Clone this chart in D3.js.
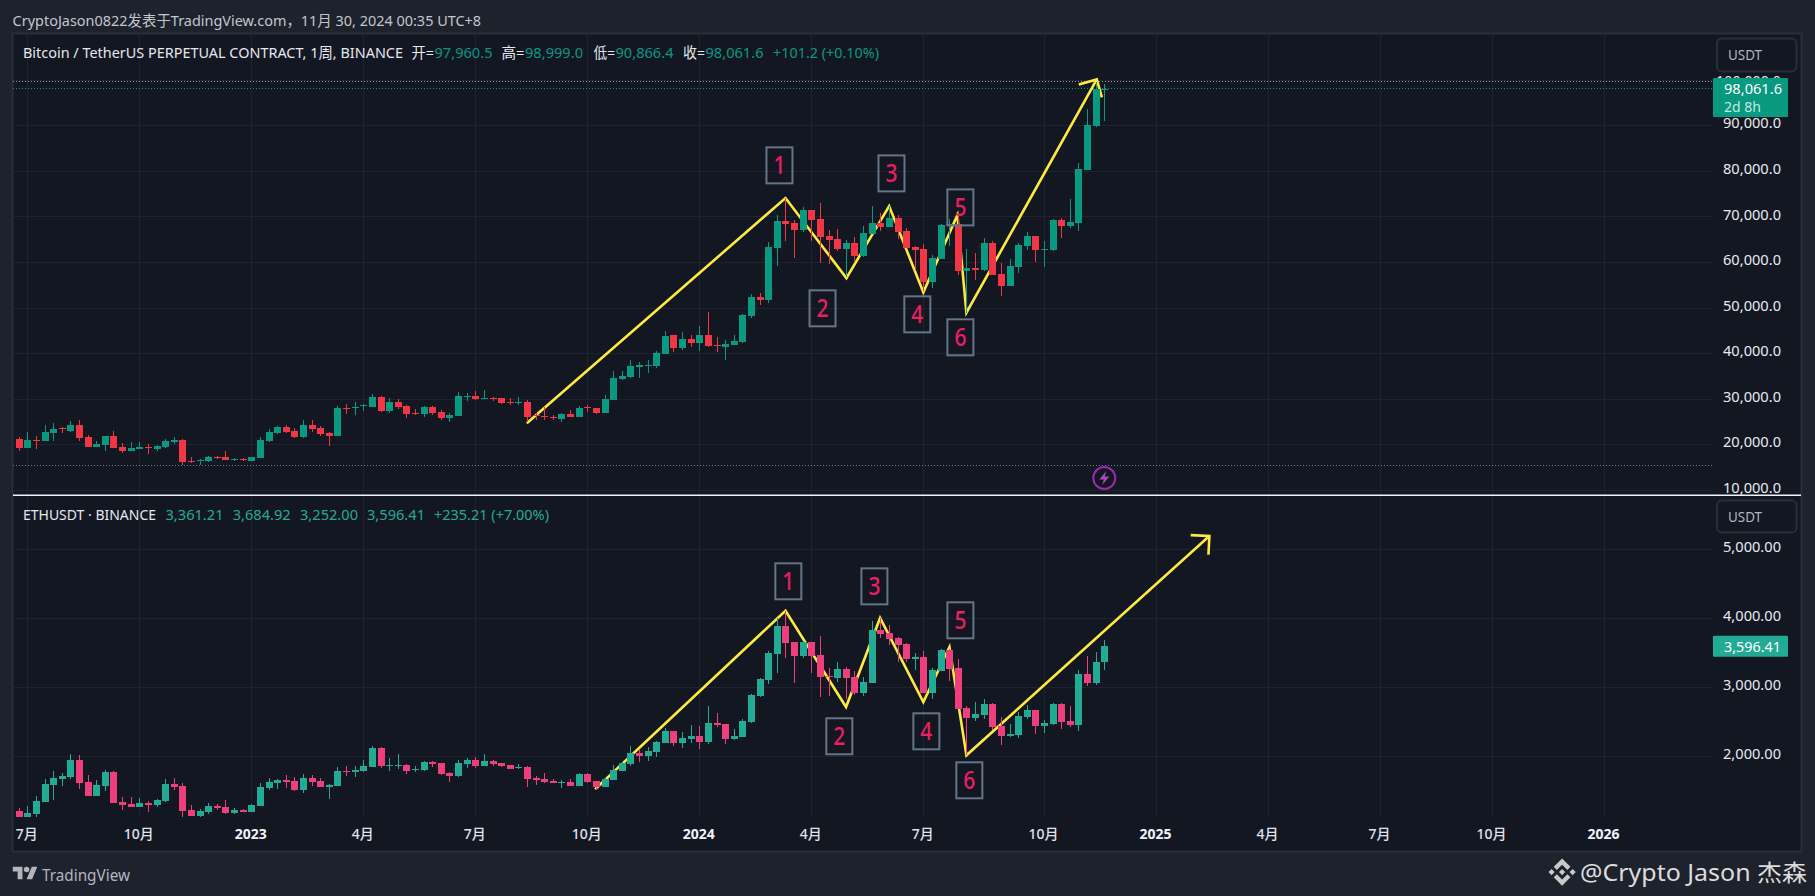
<!DOCTYPE html>
<html>
<head>
<meta charset="utf-8">
<title>BTC / ETH weekly</title>
<script src="https://cdn.jsdelivr.net/npm/d3@7"></script>
<style>
  html, body { margin: 0; background: #1e222d; overflow: hidden; }
  svg { display: block; }
  text { font-family: "Noto Sans", "Noto Sans CJK SC", sans-serif; }
</style>
</head>
<body>
<div id="chart"></div>
<script>
// weekly bars, first one is the week before the first 7月 tick
const btcOpen = [
  21180,19210,20970,20750,22500,23500,22940,24250,21620,19430,
  19870,21840,19430,18550,18990,19430,18990,19430,20530,20970,
  16360,16360,16360,17240,17240,16580,16800,16360,17020,20750,
  22500,23820,22940,21620,24250,23600,22500,21840,27980,27980,
  28420,28200,30400,27330,29300,28420,26890,26670,28200,27110,
  25790,26230,30400,30610,29960,30180,30180,29300,29080,29300,
  26450,26230,26080,25570,26670,26010,28200,27980,26890,29740,
  34340,34780,36970,37190,37190,39820,43990,41140,43120,42240,
  43990,41800,41360,41800,42460,48160,52330,51670,63070,68990,
  68550,67020,71400,69430,65700,65040,62850,64170,61320,66140,
  68550,67680,69650,66800,63290,62850,55620,60660,68110,68330,
  58030,58680,58250,64170,57370,54740,58900,63510,65700,62630,
  62630,69210,67900,68550,80170,89820,97960.5];
const btcHigh = [
  21620,22720,21840,24250,24690,23820,25130,25350,22060,20750,
  21840,22940,20310,20530,20530,20090,19870,21180,21620,21180,
  17240,16800,17460,17460,18550,17020,17020,17240,21620,23380,
  24040,24250,23600,25350,25350,24040,22720,28420,28860,29300,
  28860,31050,30610,30180,29960,28640,27760,28420,28420,27540,
  26890,31490,31270,31710,31930,30400,30180,30180,30400,29740,
  26890,28200,26450,26890,27540,28420,28640,27980,30830,36100,
  36100,38510,38070,38510,40480,44870,43990,44650,43990,45970,
  49040,43550,42900,43990,48600,52980,53200,64390,70310,74040,
  69210,72060,71400,72940,67020,67240,64830,65480,67900,72280,
  70750,72280,70310,67460,63510,63950,61540,68330,69430,70310,
  62850,61980,65260,64610,59780,60660,64170,66580,65700,64610,
  69430,69650,73810,81710,93550,99600,98999];
const btcLow = [
  18550,19210,18990,20750,20750,22500,22720,20750,19430,19430,
  18550,19210,18110,18550,18990,17900,18550,19210,20090,15590,
  15920,15440,16140,16800,16580,16360,16360,16360,17020,20530,
  22280,22500,21400,21400,22720,21840,19650,21840,26670,26450,
  27330,28200,27110,26890,27760,25790,26450,26010,26450,25350,
  24910,26230,29520,29740,29960,29520,28860,28640,28640,24910,
  25350,25350,25350,24910,26010,26010,27110,26670,26890,29740,
  34120,34560,34560,35660,36750,39820,40260,40700,41360,40480,
  41360,40260,38510,41800,42240,47720,50570,51010,59130,64610,
  60880,66580,64610,59780,59560,62410,56710,60220,61100,66140,
  66800,67680,65040,63070,58250,53640,54300,60660,63510,57150,
  48820,56050,58030,57150,52540,54740,57590,62630,60000,58900,
  62410,65260,67460,66800,80170,89600,90866.4];
const btcClose = [
  19210,20970,20750,22720,23380,23300,24250,21400,19430,20090,
  21840,19210,18550,19210,19430,19210,19650,20750,20970,16140,
  16140,16580,17240,17020,16580,16800,16580,17240,20970,22720,
  23820,22720,21620,24250,23380,22280,21840,27980,27760,28200,
  28640,30400,27330,29300,28200,26670,26670,28200,26890,25790,
  26450,30610,30610,29960,30180,29960,29080,29080,29300,26010,
  26230,26010,25860,26670,26010,27980,27980,26890,29960,34560,
  35000,37190,37410,37410,40040,43770,41140,43120,42240,43990,
  41580,41580,42020,42680,48380,52330,51670,63290,68990,68330,
  67020,71400,69210,65480,64830,62850,64170,61320,66360,68550,
  67680,69650,66580,63070,62630,55620,60880,68110,68330,58030,
  58680,58250,64170,57150,54740,59120,63730,65700,62630,62850,
  69210,67900,68770,80400,90040,97960.5,98061.6];

const ethOpen = [
  1207,1120,1164,1338,1584,1671,1700,1946,1628,1425,
  1570,1773,1338,1309,1265,1323,1294,1352,1599,1570,
  1222,1135,1193,1280,1265,1178,1222,1193,1280,1541,
  1613,1657,1642,1512,1686,1642,1555,1570,1787,1773,
  1787,1845,2120,1859,1859,1874,1801,1801,1917,1903,
  1758,1715,1888,1946,1859,1932,1903,1874,1830,1845,
  1686,1671,1642,1613,1628,1570,1744,1642,1555,1657,
  1787,1889,2048,2005,2063,2193,2367,2193,2251,2294,
  2208,2483,2468,2251,2280,2497,2874,3106,3483,3888,
  3656,3454,3656,3468,3164,3135,3265,3149,2917,3062,
  3830,3787,3714,3627,3410,3439,2917,3236,3541,3280,
  2700,2555,2599,2758,2439,2294,2309,2570,2671,2439,
  2468,2758,2512,2454,3193,3062,3361.21];
const ethHigh = [
  1251,1280,1425,1671,1787,1758,2033,2019,1729,1657,
  1801,1787,1410,1410,1396,1352,1381,1671,1686,1613,
  1294,1236,1323,1309,1367,1251,1236,1309,1613,1686,
  1671,1729,1700,1744,1729,1686,1599,1845,1859,1859,
  1946,2149,2135,1975,2033,1888,1859,1932,1932,1903,
  1773,1946,1975,1990,2033,1946,1903,1874,1888,1860,
  1715,1758,1671,1657,1671,1758,1758,1642,1686,1874,
  1918,2150,2092,2135,2222,2410,2367,2352,2454,2439,
  2729,2628,2468,2396,2541,2903,3135,3526,4004,4106,
  3656,3671,3656,3743,3280,3367,3294,3236,3149,3961,
  4004,3903,3729,3642,3497,3526,3280,3555,3555,3410,
  2729,2787,2830,2772,2570,2468,2642,2744,2671,2526,
  2772,2772,2729,3251,3454,3512,3684.92];
const ethLow = [
  1120,1120,1120,1338,1367,1570,1671,1526,1425,1425,
  1497,1323,1222,1265,1265,1193,1265,1338,1512,1120,
  1135,1120,1164,1222,1164,1164,1193,1193,1280,1512,
  1526,1541,1497,1468,1570,1555,1381,1570,1715,1700,
  1773,1845,1830,1787,1816,1744,1773,1787,1845,1729,
  1628,1700,1830,1830,1859,1859,1845,1816,1816,1555,
  1584,1613,1613,1541,1570,1570,1613,1512,1555,1657,
  1787,1860,1918,1932,1990,2193,2150,2121,2193,2106,
  2179,2425,2179,2236,2280,2483,2859,3048,3207,3425,
  3062,3425,3207,2859,2874,3077,2830,2888,2874,3062,
  3714,3613,3367,3367,3251,2917,2830,3236,3091,2686,
  2019,2512,2541,2381,2164,2280,2265,2541,2323,2338,
  2454,2396,2425,2367,3019,3033,3252.00];
const ethClose = [
  1120,1178,1352,1599,1686,1715,1946,1613,1425,1584,
  1773,1323,1294,1265,1323,1294,1367,1599,1555,1207,
  1135,1207,1280,1251,1178,1222,1193,1294,1555,1628,
  1657,1628,1512,1686,1628,1555,1584,1787,1773,1801,
  1859,2120,1859,1874,1874,1787,1816,1917,1888,1744,
  1715,1903,1946,1859,1932,1888,1859,1816,1845,1671,
  1657,1628,1613,1628,1570,1744,1628,1555,1671,1802,
  1903,2048,2005,2077,2208,2367,2193,2265,2294,2208,
  2483,2454,2251,2294,2512,2888,3120,3497,3888,3642,
  3454,3656,3454,3149,3149,3265,3135,2917,3077,3830,
  3772,3700,3613,3410,3439,2917,3251,3541,3265,2686,
  2555,2613,2758,2425,2294,2323,2584,2671,2439,2483,
  2758,2497,2454,3193,3062,3361.21,3596.41];

// time axis, in bars from the first 7月
const timeTicks = [0,13,26,39,52,65,78,91,104,118,131,144,157,170,183];
const timeLabels = ["7月","10月","2023","4月","7月","10月","2024","4月","7月","10月","2025","4月","7月","10月","2026"];
const btcTicks = [10000,20000,30000,40000,50000,60000,70000,80000,90000,100000];
const ethTicks = [2000,3000,4000,5000];

// hand drawn zigzags and their numbered boxes
const btcWaveBar = [57.97,88,95.07,100.03,104,107.95,109,124.13];
const btcWavePrice = [24630,74040,56490,72280,53350,70310,48880,100060];
const ethWaveBar = [65.9,88,95.03,98.98,104,107.03,109,137.2];
const ethWavePrice = [1522,4110,2714,4004,2787,3584,2014,5192];
const waveLabels = ["1","2","3","4","5","6"];
const btcLabelBar = [87.3,92.3,100.3,103.3,108.3,108.3];
const btcLabelPrice = [81210,49850,79450,48530,71990,43490];
const ethLabelBar = [88.33,94.25,98.32,104.35,108.3,109.34];
const ethLabelPrice = [4536,2290,4463,2362,3971,1652];

const btcRangeHigh = 99600, btcRangeLow = 15440, btcLast = 98061.6, btcCountdown = "2d 8h";
const ethLast = 3596.41;

const plotLeft = 13, plotRight = 1712, frameRight = 1801, plotTop = 34, paneSplit = 495.3, plotBottom = 817, frameBottom = 851;
const labelRight = 1781;
const barColors = {
  btc: { up: "#089981", down: "#f23645" },
  eth: { up: "#22ab94", down: "#ee3f7c" }
};

const x = d3.scaleLinear().domain([0, 183]).range([27.3, 1604]);
const yBtc = d3.scaleLinear().domain([10000, 100000]).range([490, 79.7]);
const yEth = d3.scaleLinear().domain([2000, 5000]).range([756.3, 549.3]);

const svg = d3.select("#chart").append("svg")
    .attr("width", 1815)
    .attr("height", 896);

// frame
svg.append("rect")
    .attr("x", plotLeft - 0.5).attr("y", plotTop - 0.5)
    .attr("width", frameRight - plotLeft + 1).attr("height", frameBottom - plotTop + 1)
    .attr("fill", "#131722").attr("stroke", "#2a2e39").attr("stroke-width", 2);

// grid
const gridColor = "#1f2330";
function hGrid(scale, ticks) {
    const g = svg.append("g")
        .attr("transform", `translate(${plotRight},0)`)
        .call(d3.axisLeft(scale).tickValues(ticks).tickSize(plotRight - plotLeft).tickFormat(""));
    g.select(".domain").remove();
    g.selectAll("line").attr("stroke", gridColor).attr("shape-rendering", "crispEdges");
}
hGrid(yBtc, btcTicks);
hGrid(yEth, ethTicks);

const timeAxis = svg.append("g")
    .attr("transform", `translate(0,${plotBottom})`)
    .call(d3.axisBottom(x)
        .tickValues(timeTicks)
        .tickSize(-(plotBottom - plotTop))
        .tickPadding(12)
        .tickFormat((d, i) => timeLabels[i]));
timeAxis.select(".domain").remove();
timeAxis.selectAll("line").attr("stroke", gridColor).attr("shape-rendering", "crispEdges");
timeAxis.selectAll("text")
    .attr("fill", (d, i) => /^20/.test(timeLabels[i]) ? "#f0f3fa" : "#e0e3eb")
    .style("font-size", "14px")
    .style("font-weight", (d, i) => /^20/.test(timeLabels[i]) ? 700 : 500)
    .attr("dx", -1);

// price axes
function priceAxis(scale, ticks, fmt) {
    const g = svg.append("g")
        .attr("transform", `translate(${labelRight},0)`)
        .call(d3.axisLeft(scale).tickValues(ticks).tickSize(0).tickPadding(0).tickFormat(fmt));
    g.select(".domain").remove();
    g.selectAll("text")
        .attr("fill", "#e8eaf0")
        .style("font-size", "15px")
        // the 100,000 label sits mostly under the last price tag
        .attr("dy", d => d >= 100000 ? "0.36em" : "0.17em")
        .attr("textLength", d => d >= 100000 ? 65 : 58)
        .attr("lengthAdjust", "spacingAndGlyphs");
}
priceAxis(yBtc, btcTicks, d3.format(",.1f"));
priceAxis(yEth, ethTicks, d3.format(",.2f"));

// range lines and last price line
function dotted(y, color) {
    svg.append("line")
        .attr("x1", plotLeft).attr("x2", plotRight)
        .attr("y1", y).attr("y2", y)
        .attr("stroke", color)
        .attr("stroke-dasharray", "1 2")
        .attr("shape-rendering", "crispEdges");
}
dotted(yBtc(btcRangeHigh), "#9598a1");
dotted(yBtc(btcRangeLow), "#787b86");
dotted(yBtc(btcLast), barColors.btc.up);

// zigzag with an arrow head on its last segment
function wave(bars, prices, y) {
    const pts = bars.map((b, i) => [x(b), y(prices[i])]);
    const line = d3.line();
    const n = pts.length - 1;
    const tip = pts[n];
    const back = Math.atan2(pts[n - 1][1] - tip[1], pts[n - 1][0] - tip[0]);
    const len = 18.7;
    const wing = a => [tip[0] + len * Math.cos(back + a), tip[1] + len * Math.sin(back + a)];
    const g = svg.append("g")
        .attr("fill", "none")
        .attr("stroke", "#ffeb3b")
        .attr("stroke-width", 2.6);
    g.append("path").attr("d", line(pts));
    g.append("path").attr("d", line([wing(Math.PI / 4), tip, wing(-Math.PI / 4)]));
}
wave(btcWaveBar, btcWavePrice, yBtc);
wave(ethWaveBar, ethWavePrice, yEth);

// candles
function candles(open, high, low, close, y, colors) {
    const bars = open.map((o, i) => ({ i: i - 1, o, h: high[i], l: low[i], c: close[i] }));
    const g = svg.append("g").attr("shape-rendering", "crispEdges");
    const color = d => d.c >= d.o ? colors.up : colors.down;
    g.selectAll(".wick")
        .data(bars)
        .enter()
        .append("line")
        .attr("class", "wick")
        .attr("x1", d => Math.round(x(d.i)) + 0.5)
        .attr("x2", d => Math.round(x(d.i)) + 0.5)
        .attr("y1", d => y(d.h))
        .attr("y2", d => y(d.l))
        .attr("stroke", color);
    g.selectAll(".body")
        .data(bars)
        .enter()
        .append("rect")
        .attr("class", "body")
        .attr("x", d => Math.round(x(d.i)) - 3)
        .attr("width", 7)
        .attr("y", d => y(Math.max(d.o, d.c)))
        .attr("height", d => Math.max(1, Math.abs(y(d.o) - y(d.c))))
        .attr("fill", color);
}
candles(btcOpen, btcHigh, btcLow, btcClose, yBtc, barColors.btc);
candles(ethOpen, ethHigh, ethLow, ethClose, yEth, barColors.eth);

// numbered boxes
function waveBoxes(bars, prices, y) {
    const g = svg.selectAll(null)
        .data(waveLabels)
        .enter()
        .append("g")
        .attr("transform", (d, i) => `translate(${x(bars[i])},${y(prices[i])})`);
    g.append("rect")
        .attr("x", -13).attr("y", -18)
        .attr("width", 26).attr("height", 36)
        .attr("fill", "none")
        .attr("stroke", "#637587")
        .attr("stroke-width", 2);
    g.append("text")
        .attr("text-anchor", "middle")
        .attr("dy", "0.36em")
        .attr("fill", "#e91e63")
        .style("font-size", "25px")
        .style("font-weight", 500)
        .attr("textLength", 12).attr("lengthAdjust", "spacingAndGlyphs")
        .text(d => d);
}
waveBoxes(btcLabelBar, btcLabelPrice, yBtc);
waveBoxes(ethLabelBar, ethLabelPrice, yEth);

// pane separator
svg.append("line")
    .attr("x1", plotLeft).attr("x2", frameRight)
    .attr("y1", paneSplit).attr("y2", paneSplit)
    .attr("stroke", "#f0f3fa").attr("stroke-width", 1.5);

// currency buttons
[[38.5, 33], [500.5, 32]].forEach(([top, h]) => {
    svg.append("rect")
        .attr("x", 1717).attr("y", top)
        .attr("width", 79.5).attr("height", h).attr("rx", 5)
        .attr("fill", "#131722").attr("stroke", "#2a2e39").attr("stroke-width", 2);
    svg.append("text")
        .attr("x", 1728).attr("y", top + h / 2).attr("dy", "0.36em")
        .attr("fill", "#b2b5be")
        .style("font-size", "14px")
        .attr("textLength", 34).attr("lengthAdjust", "spacingAndGlyphs")
        .text("USDT");
});

// last price tags
const fmtBtc = d3.format(",.1f"), fmtEth = d3.format(",.2f");
function tag(top, h, color) {
    svg.append("rect")
        .attr("x", 1713).attr("y", top)
        .attr("width", 75).attr("height", h).attr("rx", 1)
        .attr("fill", color);
}
function tagText(str, xPos, y, color, w) {
    svg.append("text")
        .attr("x", xPos).attr("y", y).attr("dy", "0.36em")
        .attr("fill", color)
        .style("font-size", "15px")
        .attr("textLength", w).attr("lengthAdjust", "spacingAndGlyphs")
        .text(str);
}
tag(yBtc(btcLast) - 10.5, 39, barColors.btc.up);
tagText(fmtBtc(btcLast), 1724, yBtc(btcLast), "#ffffff", 58);
tagText(btcCountdown, 1724, yBtc(btcLast) + 18, "#c4e8df", 37);
tag(yEth(ethLast) - 10.5, 21, barColors.eth.up);
tagText(fmtEth(ethLast), 1724, yEth(ethLast), "#ffffff", 57);

// event badge
const badge = svg.append("g").attr("transform", `translate(${x(125)},478)`);
badge.append("circle").attr("r", 11).attr("fill", "#131722").attr("stroke", "#9c27b0").attr("stroke-width", 2);
badge.append("path").attr("d", "M2,-7 L-5,1.5 L-0.5,1.5 L-2,7 L5,-1.5 L0.5,-1.5 Z").attr("fill", "#ab47bc");

// header and legends
const white = "#e6e8ee";
const legendTop = [
    ["Bitcoin / TetherUS PERPETUAL CONTRACT, 1周, BINANCE", 23, 380, white],
    ["开=", 411.5, 22.5, white],
    [fmtBtc(btcOpen[126]), 434.5, 58, barColors.btc.up],
    ["高=", 501.5, 23, white],
    [fmtBtc(btcHigh[126]), 525, 58, barColors.btc.up],
    ["低=", 593.5, 21.5, white],
    [fmtBtc(btcLow[126]), 615.5, 58, barColors.btc.up],
    ["收=", 683, 22, white],
    [fmtBtc(btcClose[126]), 705.5, 58, barColors.btc.up],
    ["+101.2 (+0.10%)", 773, 106, barColors.btc.up]
];
const legendBottom = [
    ["ETHUSDT · BINANCE", 23, 133, white],
    [fmtEth(ethOpen[126]), 165.5, 58, barColors.eth.up],
    [fmtEth(ethHigh[126]), 232.7, 58, barColors.eth.up],
    [fmtEth(ethLow[126]), 300, 58, barColors.eth.up],
    [fmtEth(ethClose[126]), 367, 58, barColors.eth.up],
    ["+235.21 (+7.00%)", 434, 115, barColors.eth.up]
];
function legend(items, y) {
    svg.selectAll(null)
        .data(items)
        .enter()
        .append("text")
        .attr("x", d => d[1])
        .attr("y", y)
        .attr("dy", "0.36em")
        .attr("fill", d => d[3])
        .style("font-size", "15px")
        .attr("textLength", d => d[2])
        .attr("lengthAdjust", "spacingAndGlyphs")
        .text(d => d[0]);
}
legend(legendTop, 53);
legend(legendBottom, 515);

legend([["CryptoJason0822发表于TradingView.com，11月 30, 2024 00:35 UTC+8", 12.6, 468.5, "#c3c6ce"]], 20.5);

// footer logo
const logo = svg.append("g")
    .attr("transform", "translate(12.8,864) scale(0.69)")
    .attr("fill", "#b2b5be");
logo.append("path").attr("d", "M14 22H7V11H0V4h14v18zM28 22h-8l7.5-18h8L28 22z");
logo.append("circle").attr("cx", 20).attr("cy", 8).attr("r", 4);
svg.append("text")
    .attr("x", 42).attr("y", 875).attr("dy", "0.36em")
    .attr("fill", "#b2b5be")
    .style("font-size", "16px")
    .attr("textLength", 88).attr("lengthAdjust", "spacingAndGlyphs")
    .text("TradingView");

// author watermark
svg.append("g")
    .attr("transform", "translate(1548.5,858.5) scale(0.215)")
    .attr("fill", "#c9c9c9")
    .selectAll("polygon")
    .data([
        "38.73 53.2 63.3 28.62 87.89 53.21 102.2 38.91 63.3 0 24.42 38.9",
        "0 63.3 14.3 49 28.6 63.3 14.3 77.6",
        "38.73 73.41 63.3 98 87.89 73.4 102.2 87.69 63.3 126.61 24.42 87.71",
        "98 63.31 112.3 49 126.61 63.3 112.3 77.61",
        "77.83 63.3 63.3 48.76 48.78 63.28 63.3 77.8"
    ])
    .enter()
    .append("polygon")
    .attr("points", d => d);
svg.append("text")
    .attr("x", 1580).attr("y", 872.5).attr("dy", "0.36em")
    .attr("fill", "#dcdcdc")
    .style("font-size", "23px")
    .attr("textLength", 227).attr("lengthAdjust", "spacingAndGlyphs")
    .text("@Crypto Jason 杰森");
</script>
</body>
</html>
